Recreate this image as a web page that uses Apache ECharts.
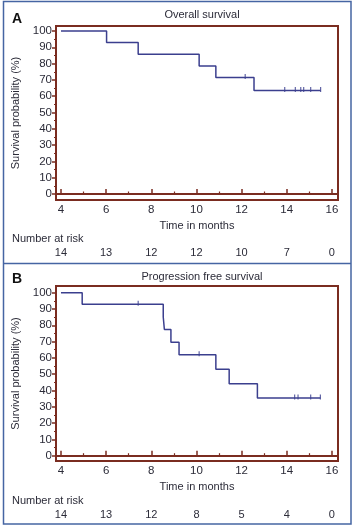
<!DOCTYPE html>
<html><head><meta charset="utf-8">
<script src="https://cdn.jsdelivr.net/npm/echarts@6/dist/echarts.min.js"></script>
<style>html,body{margin:0;padding:0;background:#fff}#c{width:353px;height:526px}</style>
</head><body><div id="c"></div>
<script>
// ---- data ----
const xTicks = [4, 6, 8, 10, 12, 14, 16];
const xMinor = [5, 7, 9, 11, 13, 15];
const yTicks = [0, 10, 20, 30, 40, 50, 60, 70, 80, 90, 100];
const yMinor = [5, 15, 25, 35, 45, 55, 65, 75, 85, 95];

const osTimes = [4, 6.02, 7.42, 10.12, 10.86, 12.55, 15.5];
const osSurv = [100, 92.9, 85.7, 78.6, 71.4, 63.5, 63.5];
const osCensorTimes = [12.16, 13.91, 14.38, 14.62, 14.75, 15.06, 15.5];
const osCensorSurv = [71.4, 63.5, 63.5, 63.5, 63.5, 63.5, 63.5];
const osAtRisk = [14, 13, 12, 12, 10, 7, 0];

const pfsTimes = [4, 4.94, 8.53, 8.58, 8.87, 9.23, 10.86, 11.45, 12.7, 15.49];
const pfsSurv = [100, 92.9, 85.1, 77.4, 69.6, 61.9, 53.1, 44.2, 35.4, 35.4];
const pfsCensorTimes = [7.42, 10.12, 14.35, 14.5, 15.06, 15.49];
const pfsCensorSurv = [92.9, 61.9, 35.4, 35.4, 35.4, 35.4];
const pfsAtRisk = [14, 13, 12, 8, 5, 4, 0];

const titles = ['Overall survival', 'Progression free survival'];
const panelLetters = ['A', 'B'];
const xName = 'Time in months';
const yName = 'Survival probability (%)';
const riskLabel = 'Number at risk';

// ---- styling ----
const FONT = '"Liberation Sans", Arial, sans-serif';
const TXT = '#2b2b38';
const FRAME = '#7a2c20';
const CURVE = '#3b3f8e';
const BORDER = '#4565a3';

const zip = (a, b) => a.map((v, i) => [v, b[i]]);

const panels = [
  { top: 26, height: 174, ymin: -3.68, ymax: 103.07, riskOffset: 47, times: osTimes, surv: osSurv, ct: osCensorTimes, cs: osCensorSurv, risk: osAtRisk },
  { top: 286, height: 175, ymin: -3.25, ymax: 104.1, riskOffset: 48, times: pfsTimes, surv: pfsSurv, ct: pfsCensorTimes, cs: pfsCensorSurv, risk: pfsAtRisk }
];

const grid = [], xAxis = [], yAxis = [], series = [];
panels.forEach((p, i) => {
  grid.push({ left: 56, right: 15, top: p.top, height: p.height, show: true, borderColor: FRAME, borderWidth: 2, backgroundColor: '#fff' });
  const xb = { type: 'value', gridIndex: i, min: 3.78, max: 16.27, splitLine: { show: false } };
  xAxis.push(Object.assign({}, xb, {
    position: 'bottom',
    axisLine: { lineStyle: { color: FRAME, width: 2 } },
    axisTick: { inside: true, length: 5, customValues: xTicks, lineStyle: { color: FRAME, width: 1.5 } },
    axisLabel: { customValues: xTicks, margin: 4, color: TXT, fontSize: 11.5, fontFamily: FONT },
    name: xName, nameLocation: 'middle', nameGap: 20,
    nameTextStyle: { color: TXT, fontSize: 11, fontFamily: FONT }
  }));
  xAxis.push(Object.assign({}, xb, {
    position: 'bottom', offset: 0,
    axisLine: { show: false },
    axisTick: { inside: true, length: 2.5, customValues: xMinor, lineStyle: { color: FRAME, width: 1.2 } },
    axisLabel: { show: false }
  }));
  xAxis.push(Object.assign({}, xb, {
    position: 'bottom', offset: p.riskOffset,
    axisLine: { show: false }, axisTick: { show: false },
    axisLabel: {
      customValues: xTicks, margin: 0, color: TXT, fontSize: 11, fontFamily: FONT,
      formatter: (v) => { const k = xTicks.indexOf(Math.round(v)); return k >= 0 ? String(p.risk[k]) : ''; }
    }
  }));
  const yb = { type: 'value', gridIndex: i, min: p.ymin, max: p.ymax, splitLine: { show: false }, position: 'left', offset: 0 };
  yAxis.push(Object.assign({}, yb, {
    axisLine: { lineStyle: { color: FRAME, width: 2 } },
    axisTick: { inside: false, length: 4, customValues: yTicks, lineStyle: { color: FRAME, width: 1.5 } },
    axisLabel: { customValues: yTicks, margin: 4, color: TXT, fontSize: 11.5, fontFamily: FONT },
    name: yName, nameLocation: 'middle', nameGap: 30,
    nameTextStyle: { color: TXT, fontSize: 11, fontFamily: FONT }
  }));
  yAxis.push(Object.assign({}, yb, {
    axisLine: { show: false },
    axisTick: { inside: false, length: 2, customValues: yMinor, lineStyle: { color: FRAME, width: 1.2 } },
    axisLabel: { show: false }
  }));
  series.push({
    type: 'line', xAxisIndex: i * 3, yAxisIndex: i * 2, step: 'end', showSymbol: false, symbol: 'none',
    data: zip(p.times, p.surv), lineStyle: { color: CURVE, width: 1.5 }, silent: true, animation: false
  });
  series.push({
    type: 'scatter', xAxisIndex: i * 3, yAxisIndex: i * 2, symbol: 'rect', symbolSize: [1.2, 5], symbolOffset: [0, -1],
    data: zip(p.ct, p.cs), itemStyle: { color: CURVE }, silent: true, animation: false
  });
});

const chart = echarts.init(document.getElementById('c'), null, { renderer: 'canvas' });
chart.setOption({
  animation: false,
  backgroundColor: '#fff',
  title: [
    { text: titles[0], left: 197, top: 4, textAlign: 'center', textStyle: { color: TXT, fontSize: 11, fontWeight: 'normal', fontFamily: FONT } },
    { text: titles[1], left: 197, top: 266, textAlign: 'center', textStyle: { color: TXT, fontSize: 11, fontWeight: 'normal', fontFamily: FONT } }
  ],
  grid, xAxis, yAxis, series,
  graphic: [
    { type: 'rect', shape: { x: 3.5, y: 1.5, width: 347.5, height: 522.5 }, style: { fill: 'none', stroke: BORDER, lineWidth: 1.5 }, z: 100 },
    { type: 'line', shape: { x1: 3.5, y1: 263.5, x2: 351, y2: 263.5 }, style: { stroke: BORDER, lineWidth: 1.5 }, z: 100 },
    { type: 'text', left: 12, top: 12, style: { text: panelLetters[0], fill: '#111', font: 'bold 14px ' + FONT } },
    { type: 'text', left: 12, top: 272, style: { text: panelLetters[1], fill: '#111', font: 'bold 14px ' + FONT } },
    { type: 'text', left: 12, top: 233, style: { text: riskLabel, fill: TXT, font: '11px ' + FONT } },
    { type: 'text', left: 12, top: 495, style: { text: riskLabel, fill: TXT, font: '11px ' + FONT } }
  ]
});
</script>
</body></html>
